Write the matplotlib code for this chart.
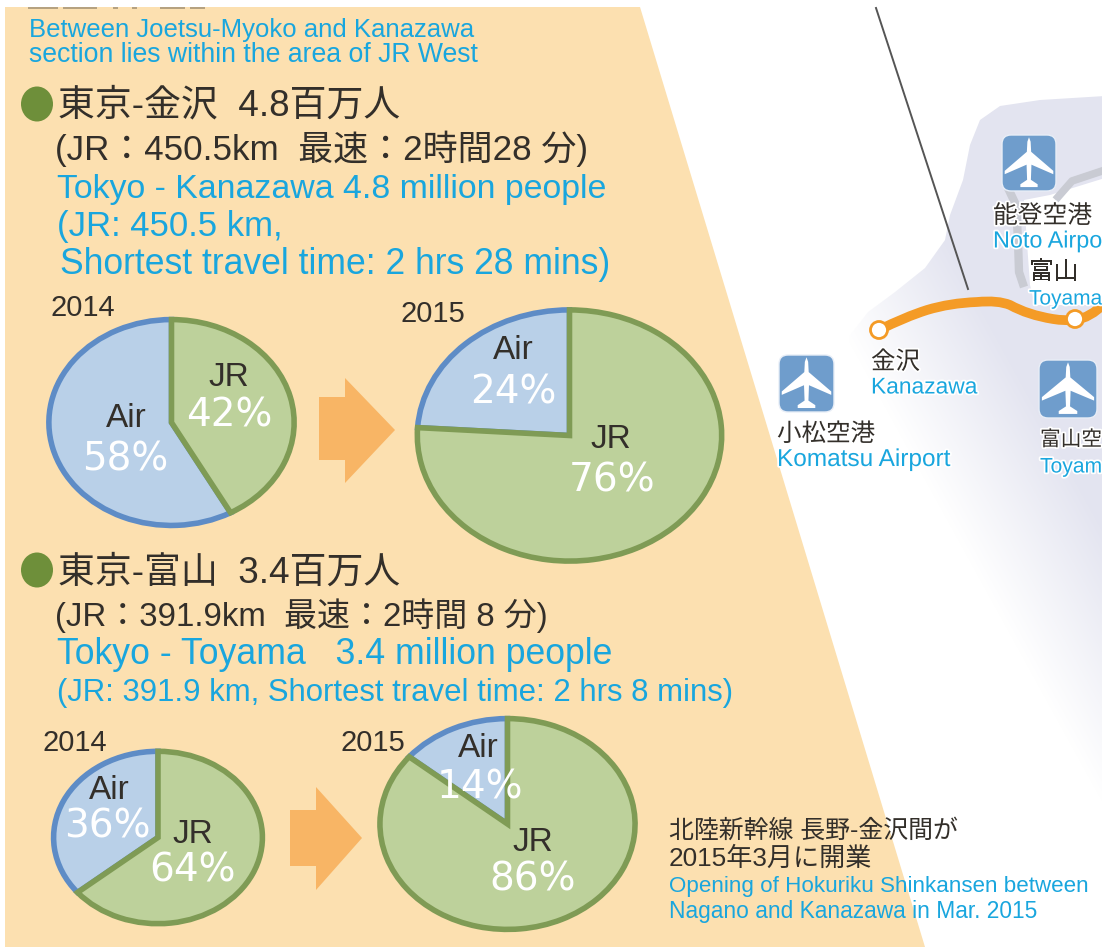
import numpy as np
import matplotlib
matplotlib.use("Agg")
import matplotlib.pyplot as plt
import matplotlib.patheffects as pe
from matplotlib.patches import Polygon, Circle, FancyBboxPatch, Rectangle, PathPatch, Ellipse
from matplotlib.path import Path

W, H = 1105, 947
FONT = ['Liberation Sans', 'Noto Sans CJK JP', 'DejaVu Sans']
plt.rcParams['font.family'] = FONT

# ---- data ----
pie_slices = ['JR', 'Air']
kanazawa_2014 = [42, 58]
kanazawa_2015 = [76, 24]
toyama_2014 = [64, 36]
toyama_2015 = [86, 14]

CYAN = '#19A6DE'
DARK = '#332f2a'
PEACH = '#FCE0B0'
GREEN_F = '#BDD19B'
GREEN_E = '#7F9B55'
BLUE_F = '#B9D0E8'
BLUE_E = '#5E8CC6'
ORANGE = '#F49B26'
ARROW = '#F8B565'
AIRPORT = '#6F9DCC'
ROAD = '#C9CBD3'
LAV = np.array([0xE3, 0xE4, 0xF0]) / 255

fig = plt.figure(figsize=(W / 100, H / 100), dpi=100, facecolor='white')


def px_axes(x0, y0, x1, y1, z):
    return fig.add_axes([x0 / W, 1 - y1 / H, (x1 - x0) / W, (y1 - y0) / H], zorder=z)


bg = px_axes(0, 0, W, H, 0)
bg.set_xlim(0, W); bg.set_ylim(H, 0); bg.axis('off')
top = px_axes(0, 0, W, H, 5)
top.set_xlim(0, W); top.set_ylim(H, 0); top.axis('off'); top.patch.set_alpha(0)

# lavender landmass, fading towards the lower left
blob = [(1105, 96), (1040, 100), (1000, 106), (980, 120), (970, 145), (963, 180), (950, 215),
        (945, 240), (925, 268), (895, 292), (868, 312), (850, 335), (840, 400), (1105, 947)]
yy, xx = np.mgrid[0:H, 0:W]
strength = np.clip((0.876 * (xx - 880) - 0.482 * (yy - 400)) / 135, 0, 1)
rgba = np.zeros((H, W, 4))
rgba[..., :3] = LAV
rgba[..., 3] = strength
im = bg.imshow(rgba, extent=(0, W, H, 0), zorder=1, aspect='auto')
blob_patch = Polygon(blob, closed=True, transform=bg.transData, fc='none', ec='none')
bg.add_patch(blob_patch)
im.set_clip_path(blob_patch)
bg.set_xlim(0, W); bg.set_ylim(H, 0)

# grey connecting roads and white island behind labels
bg.add_patch(Polygon([(1024, 200), (1050, 195), (1105, 178), (1105, 305), (1035, 305), (1030, 285)],
                     closed=True, fc='white', ec='none', zorder=2))
bg.plot([1008, 1016, 1018, 1019, 1024], [188, 205, 240, 272, 287], color=ROAD, lw=6, zorder=3,
        solid_capstyle='butt')
bg.plot([1058, 1072, 1105], [197, 181, 170], color=ROAD, lw=5.5, zorder=3)

# peach panel
bg.add_patch(Polygon([(5, 7), (640, 7), (925, 947), (5, 947)], closed=True, fc=PEACH, ec='none', zorder=2))

# remnants of a line of text cut off by the top of the source picture
for xa, xb in [(28, 58), (63, 97), (113, 118), (132, 137), (160, 185), (190, 205)]:
    bg.plot([xa, xb], [7.5, 7.5], color='#A89677', lw=1.2, zorder=3, solid_capstyle='butt')

# thin black line
bg.plot([876, 968], [8, 289], color='#555555', lw=1.4, zorder=4)

# orange railway line
verts = [(879, 330), (905, 317), (927, 310), (950, 303), (977, 302), (998, 300), (1010, 305), (1028, 315),
         (1053, 319), (1065, 321), (1075, 320), (1090, 318), (1105, 303)]
codes = [Path.MOVETO] + [Path.CURVE3] * 12
bg.add_patch(PathPatch(Path(verts, codes), fc='none', ec=ORANGE, lw=7, zorder=4))
for cx, cy, r, lw_ in [(879, 330, 8.5, 2), (1075, 319, 8.5, 2)]:
    bg.add_patch(Circle((cx, cy), r, fc='white', ec=ORANGE, lw=lw_, zorder=5))


# airports
def airport(x0, y0, x1, y1):
    bg.add_patch(FancyBboxPatch((x0 + 8, y0 + 8), x1 - x0 - 16, y1 - y0 - 16, boxstyle='round,pad=8,rounding_size=9',
                                fc=AIRPORT, ec='#E8EEF7', lw=1, zorder=6))
    cx, w, h = (x0 + x1) / 2, x1 - x0, y1 - y0
    shape = [(0, .04), (.03, .12), (.04, .30), (.45, .64), (.45, .70), (.045, .53), (.035, .80), (.16, .88),
             (.16, .93), (0, .93)]
    right = [(cx + a * w, y0 + b * h) for a, b in shape]
    left = [(cx - a * w, y0 + b * h) for a, b in shape][::-1]
    bg.add_patch(Polygon(right + left, closed=True, fc='white', ec='none', zorder=7))


airport(1002, 135, 1056, 191)
airport(779, 355, 834, 412)
airport(1039, 360, 1097, 418)

# arrows
for pts in ([(319, 397), (345, 397), (345, 378), (395, 430), (345, 483), (345, 460), (319, 460)],
            [(290, 810), (316, 810), (316, 787), (362, 838), (316, 890), (316, 866), (290, 866)]):
    bg.add_patch(Polygon(pts, closed=True, fc=ARROW, ec='none', zorder=3))

# bullets
for cy in (104, 570):
    top.add_patch(Ellipse((37, cy), 32, 35, fc='#6E8F3A', ec='none'))


# pies
def pie(values, x0, y0, x1, y1):
    a = px_axes(x0, y0, x1, y1, 3)
    a.pie(values, startangle=90, counterclock=False, radius=0.985, colors=[GREEN_F, BLUE_F],
          wedgeprops={'linewidth': 4, 'joinstyle': 'miter'})
    a.set_aspect('auto')
    wedges = a.patches
    wedges[0].set_edgecolor(GREEN_E)
    wedges[0].set_zorder(3)
    wedges[1].set_edgecolor(BLUE_E)
    wedges[1].set_zorder(2)
    a.set_xlim(-1, 1); a.set_ylim(-1, 1)
    for p in wedges:
        p.set_clip_on(False)


pie(kanazawa_2014, 47, 318, 296, 527)
pie(kanazawa_2015, 415, 308, 724, 563)
pie(toyama_2014, 52, 750, 264, 925)
pie(toyama_2015, 378, 717, 637, 931)

renderer = fig.canvas.get_renderer()


def fit(x, y, s, x1=None, color=DARK, size=20, halo=False, **kw):
    t = top.text(x, y + 2, s, color=color, fontsize=size, va='center', ha='left', **kw)
    if x1 is not None:
        w = t.get_window_extent(renderer).width
        t.set_fontsize(size * (x1 - x) / w)
    if halo:
        t.set_path_effects([pe.withStroke(linewidth=2.5, foreground='white')])
    return t


def mid(x, y, s, color=DARK, size=24, **kw):
    return top.text(x, y + 2, s, color=color, fontsize=size, va='center', ha='center', **kw)


fit(29, 28, 'Between Joetsu-Myoko and Kanazawa', 472, CYAN)
fit(29, 53, 'section lies within the area of JR West', 477, CYAN)
fit(58, 104, '東京-金沢  4.8百万人', 400)
fit(55, 147, '(JR：450.5km  最速：2時間28 分)', 588)
fit(57, 187, 'Tokyo - Kanazawa 4.8 million people', 606, CYAN)
fit(57, 224, '(JR: 450.5 km,', 283, CYAN)
fit(60, 262, 'Shortest travel time: 2 hrs 28 mins)', 610, CYAN)
fit(50, 306, '2014', 115)
fit(400, 312, '2015', 465)
fit(58, 571, '東京-富山  3.4百万人', 400)
fit(55, 614, '(JR：391.9km  最速：2時間 8 分)', 548)
fit(57, 652, 'Tokyo - Toyama   3.4 million people', 612, CYAN)
fit(57, 691, '(JR: 391.9 km, Shortest travel time: 2 hrs 8 mins)', 732, CYAN)
fit(43, 741, '2014', 108)
fit(340, 741, '2015', 405)

# pie labels
for x, y, name, value_x, value_y, val in [
    (126, 416, pie_slices[1], 125, 457, kanazawa_2014[1]),
    (229, 375, pie_slices[0], 229, 413, kanazawa_2014[0]),
    (513, 348, pie_slices[1], 513, 390, kanazawa_2015[1]),
    (611, 437, pie_slices[0], 612, 478, kanazawa_2015[0]),
    (109, 788, pie_slices[1], 107, 824, toyama_2014[1]),
    (193, 832, pie_slices[0], 193, 868, toyama_2014[0]),
    (478, 746, pie_slices[1], 480, 785, toyama_2015[1]),
    (533, 840, pie_slices[0], 533, 877, toyama_2015[0]),
]:
    mid(x, y, name, DARK, 24)
    mid(value_x, value_y, f'{val}%', 'white', 28, family='DejaVu Sans')

# footnote
fit(669, 829, '北陸新幹線 長野-金沢間が', 958)
fit(669, 857, '2015年3月に開業', 872)
fit(669, 884, 'Opening of Hokuriku Shinkansen between', 1087, CYAN)
fit(669, 909, 'Nagano and Kanazawa in Mar. 2015', 1037, CYAN)

# map labels (cut by the picture's right edge as in the source)
fit(871, 360, '金沢', 920, halo=True)
fit(871, 385, 'Kanazawa', 977, CYAN, halo=True)
fit(777, 432, '小松空港', 875, halo=True)
fit(777, 458, 'Komatsu Airport', 950, CYAN, halo=True)
fit(993, 214, '能登空港', 1092, halo=True)
fit(993, 239, 'Noto Airpo', 1102, CYAN, halo=True)
fit(1029, 270, '富山', 1078, halo=True)
fit(1029, 297, 'Toyama', 1102, CYAN, halo=True)
fit(1040, 438, '富山空', 1102, halo=True)
fit(1040, 465, 'Toyam', 1102, CYAN, halo=True)

# white margin at the right edge
top.add_patch(Rectangle((1102, 0), 3, H, fc='white', ec='none', zorder=10))

fig.savefig('out.png', dpi=100, facecolor='white')
